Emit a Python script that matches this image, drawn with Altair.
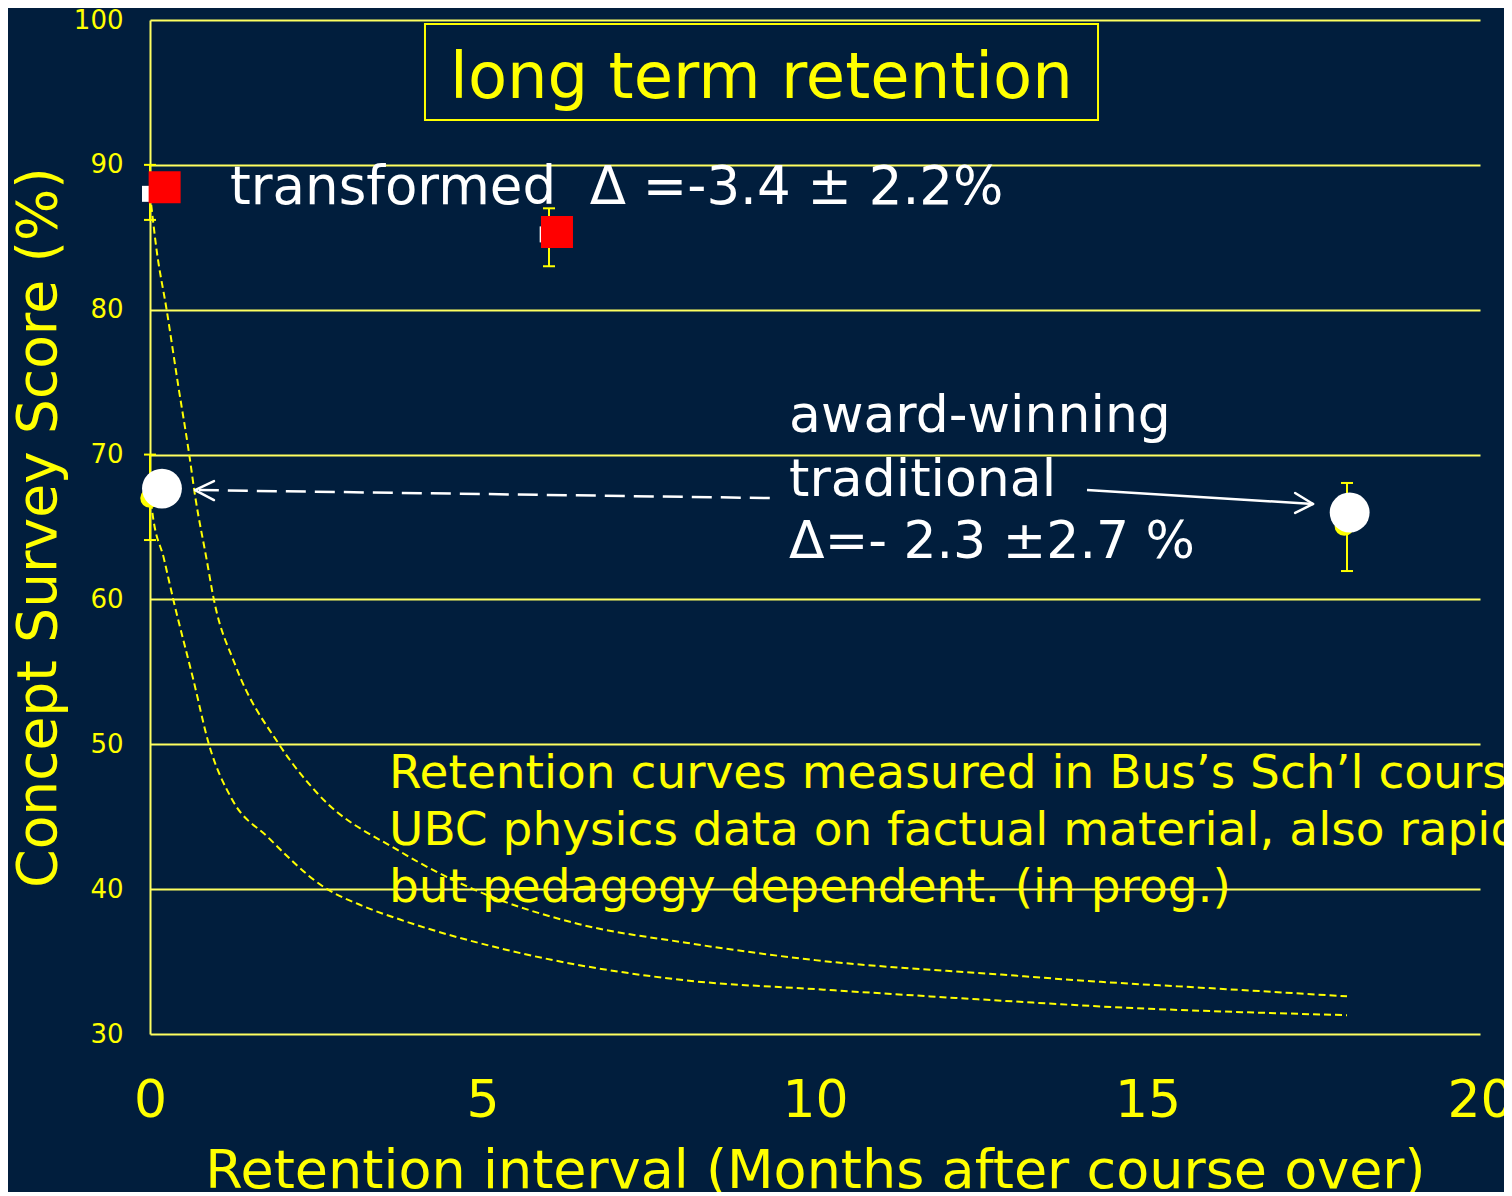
import math
import altair as alt
import pandas as pd

# ---------------- data ----------------
# transformed course (red squares) and their underlying start markers
trans_x = [0.22, 6.12]
trans_y = [88.45, 85.36]
trans_base_x = [0.0, 5.98]
trans_base_y = [88.0, 85.2]
trans_err_x = [0.0, 6.0]
trans_err_lo = [86.2, 83.0]
trans_err_hi = [90.0, 87.0]

# award-winning traditional course (white circles)
trad_x = [0.18, 18.04]
trad_y = [67.65, 66.0]
trad_base_x = [0.0, 17.96]
trad_base_y = [67.0, 65.07]
trad_err_x = [0.0, 18.0]
trad_err_lo = [64.1, 61.96]
trad_err_hi = [70.0, 68.04]

# retention curves (dashed yellow)
curve_a_x = [0.0, 0.1, 0.25, 0.42, 0.59, 0.68, 0.85, 0.96, 1.28, 1.94, 2.52, 3.76, 4.86, 6.44, 8.06, 10.0, 12.8, 14.3, 15.8, 18.0]
curve_a_y = [88.0, 84.1, 80.0, 74.9, 70.0, 67.1, 62.8, 60.0, 55.5, 50.0, 46.6, 42.6, 40.0, 37.6, 36.3, 35.1, 34.1, 33.6, 33.2, 32.6]
curve_b_x = [0.0, 0.03, 0.21, 0.35, 0.655, 0.886, 1.233, 1.77, 2.63, 3.22, 3.76, 5.37, 8.06, 10.0, 12.8, 14.3, 18.0]
curve_b_y = [67.5, 66.2, 62.8, 60.0, 54.4, 50.0, 46.2, 43.6, 40.1, 38.8, 37.9, 35.8, 33.7, 33.1, 32.3, 31.9, 31.3]

x_ticks = [0, 5, 10, 15, 20]
y_ticks = [30, 40, 50, 60, 70, 80, 90, 100]

title_text = ["long term retention"]
trans_label = ["transformed\u00a0\u00a0\u0394 =-3.4 \u00b1 2.2%"]
trad_label = ["award-winning", "traditional", "\u0394=- 2.3 \u00b12.7 %"]
note_label = [
    "Retention curves measured in Bus\u2019s Sch\u2019l course",
    "UBC physics data on factual material, also rapid",
    "but pedagogy dependent. (in prog.)",
]

# annotation anchors (data units)
box_x = [4.135, 14.256]
box_y = [99.72, 93.10]
title_pos = [9.195, 94.62]
trans_label_pos = [1.203, 87.30]
trad_label_x = 9.61
trad_label_y = [71.56, 67.14, 62.86]
note_x = 3.594
note_y = [46.98, 43.05, 39.11]

arrow_dash = {"x": [9.32], "y": [67.0], "x2": [0.70], "y2": [67.55]}
arrow_solid = {"x": [14.09], "y": [67.55], "x2": [17.49], "y2": [66.59]}
arrow_heads = {
    "x": [0.677, 0.677, 17.49, 17.49],
    "y": [67.55, 67.55, 66.59, 66.59],
    "x2": [0.962, 0.962, 17.22, 17.22],
    "y2": [68.17, 66.86, 67.35, 65.97],
}

# ---------------- style ----------------
BG = "#011e3d"
YEL = "#ffff00"
GRID = "#ffff60"
FONT = "DejaVu Sans"

xscale = alt.Scale(domain=[0, 20], nice=False, zero=False)
yscale = alt.Scale(domain=[30, 100], nice=False, zero=False)

xaxis = alt.Axis(
    values=x_ticks, labelFontSize=52, labelColor=YEL, labelFont=FONT,
    labelPadding=41, labelFlush=False, domain=False, ticks=False, grid=False,
    title="Retention interval (Months after course over)", titleFontSize=54,
    titleColor=YEL, titleFont=FONT, titleFontWeight="normal",
    titleBaseline="alphabetic", titleX=665, titleY=153, titleAlign="center",
)
yaxis = alt.Axis(
    values=y_ticks, labelFontSize=26, labelColor=YEL, labelFont=FONT,
    labelPadding=27, ticks=False, domain=True, domainColor=GRID, domainWidth=2,
    grid=True, gridColor=GRID, gridWidth=2, gridOpacity=1,
    title="Concept Survey Score (%)", titleFontSize=55, titleColor=YEL,
    titleFont=FONT, titleFontWeight="normal", titleBaseline="alphabetic",
    titleX=-95, titleY=507, titleAngle=270, titleAlign="center",
)


def X(f):
    return alt.X(f, type="quantitative", scale=xscale, axis=xaxis)


def Y(f):
    return alt.Y(f, type="quantitative", scale=yscale, axis=yaxis)


# ---------------- layers ----------------
box = alt.Chart(pd.DataFrame({"x0": [box_x[0]], "x1": [box_x[1]], "y0": [box_y[0]], "y1": [box_y[1]]})).mark_rect(
    fillOpacity=0, stroke=YEL, strokeWidth=2
).encode(x=X("x0"), x2="x1", y=Y("y0"), y2="y1")

curves_df = pd.concat([
    pd.DataFrame({"x": curve_a_x, "y": curve_a_y, "c": "a"}),
    pd.DataFrame({"x": curve_b_x, "y": curve_b_y, "c": "b"}),
])
curves = alt.Chart(curves_df).mark_line(
    color=YEL, strokeWidth=2, strokeDash=[7, 4], interpolate="monotone"
).encode(x=X("x"), y=Y("y"), detail="c:N", order="x:Q")

t_title = alt.Chart(pd.DataFrame({"x": [title_pos[0]], "y": [title_pos[1]], "t": title_text})).mark_text(
    align="center", baseline="alphabetic", font=FONT, fontSize=64, color=YEL
).encode(x=X("x"), y=Y("y"), text="t:N")

t_trans = alt.Chart(pd.DataFrame({"x": [trans_label_pos[0]], "y": [trans_label_pos[1]], "t": trans_label})).mark_text(
    align="left", baseline="alphabetic", font=FONT, fontSize=53, color="white"
).encode(x=X("x"), y=Y("y"), text="t:N")

t_trad = alt.Chart(pd.DataFrame({"x": [trad_label_x] * 3, "y": trad_label_y, "t": trad_label})).mark_text(
    align="left", baseline="alphabetic", font=FONT, fontSize=52, color="white"
).encode(x=X("x"), y=Y("y"), text="t:N")

t_note = alt.Chart(pd.DataFrame({"x": [note_x] * 3, "y": note_y, "t": note_label})).mark_text(
    align="left", baseline="alphabetic", font=FONT, fontSize=47, color=YEL
).encode(x=X("x"), y=Y("y"), text="t:N")

err_df = pd.DataFrame({
    "x": trans_err_x + trad_err_x,
    "lo": trans_err_lo + trad_err_lo,
    "hi": trans_err_hi + trad_err_hi,
})
err = alt.Chart(err_df).mark_rule(color=YEL, strokeWidth=2).encode(x=X("x"), y=Y("lo"), y2="hi")
caps_df = pd.DataFrame({
    "x": (trans_err_x + trad_err_x) * 2,
    "y": trans_err_lo + trad_err_lo + trans_err_hi + trad_err_hi,
})
caps = alt.Chart(caps_df).mark_rule(color=YEL, strokeWidth=2, xOffset=-6, x2Offset=6).encode(
    x=X("x"), x2="x", y=Y("y")
)

base_sq = alt.Chart(pd.DataFrame({"x": trans_base_x, "y": trans_base_y})).mark_point(
    shape="square", filled=True, size=256, color="white", opacity=1
).encode(x=X("x"), y=Y("y"))
base_circ = alt.Chart(pd.DataFrame({"x": trad_base_x, "y": trad_base_y})).mark_circle(
    size=380, color=YEL, opacity=1
).encode(x=X("x"), y=Y("y"))

red_sq = alt.Chart(pd.DataFrame({"x": trans_x, "y": trans_y})).mark_point(
    shape="square", filled=True, size=1024, color="#ff0000", opacity=1
).encode(x=X("x"), y=Y("y"))
white_circ = alt.Chart(pd.DataFrame({"x": trad_x, "y": trad_y})).mark_circle(
    size=math.pi * 22.5 ** 2, color="white", opacity=1
).encode(x=X("x"), y=Y("y"))

a_dash = alt.Chart(pd.DataFrame(arrow_dash)).mark_rule(color="white", strokeWidth=2.5, strokeDash=[20, 9]).encode(
    x=X("x"), y=Y("y"), x2="x2", y2="y2"
)
a_solid = alt.Chart(pd.DataFrame(arrow_solid)).mark_rule(color="white", strokeWidth=2.5).encode(
    x=X("x"), y=Y("y"), x2="x2", y2="y2"
)
a_heads = alt.Chart(pd.DataFrame(arrow_heads)).mark_rule(color="white", strokeWidth=2.5, strokeCap="round").encode(
    x=X("x"), y=Y("y"), x2="x2", y2="y2"
)

chart = alt.layer(
    box, curves, t_title, t_trans, t_trad, t_note, err, caps,
    base_sq, base_circ, red_sq, white_circ, a_dash, a_solid, a_heads,
).properties(
    width=1330, height=1014,
    padding={"left": 142, "top": 12, "right": 24, "bottom": 158},
    autosize=alt.AutoSizeParams(type="none"),
    background=BG,
).configure_view(strokeWidth=0)

chart.save("out.html", embed_options={"renderer": "svg", "actions": False})
